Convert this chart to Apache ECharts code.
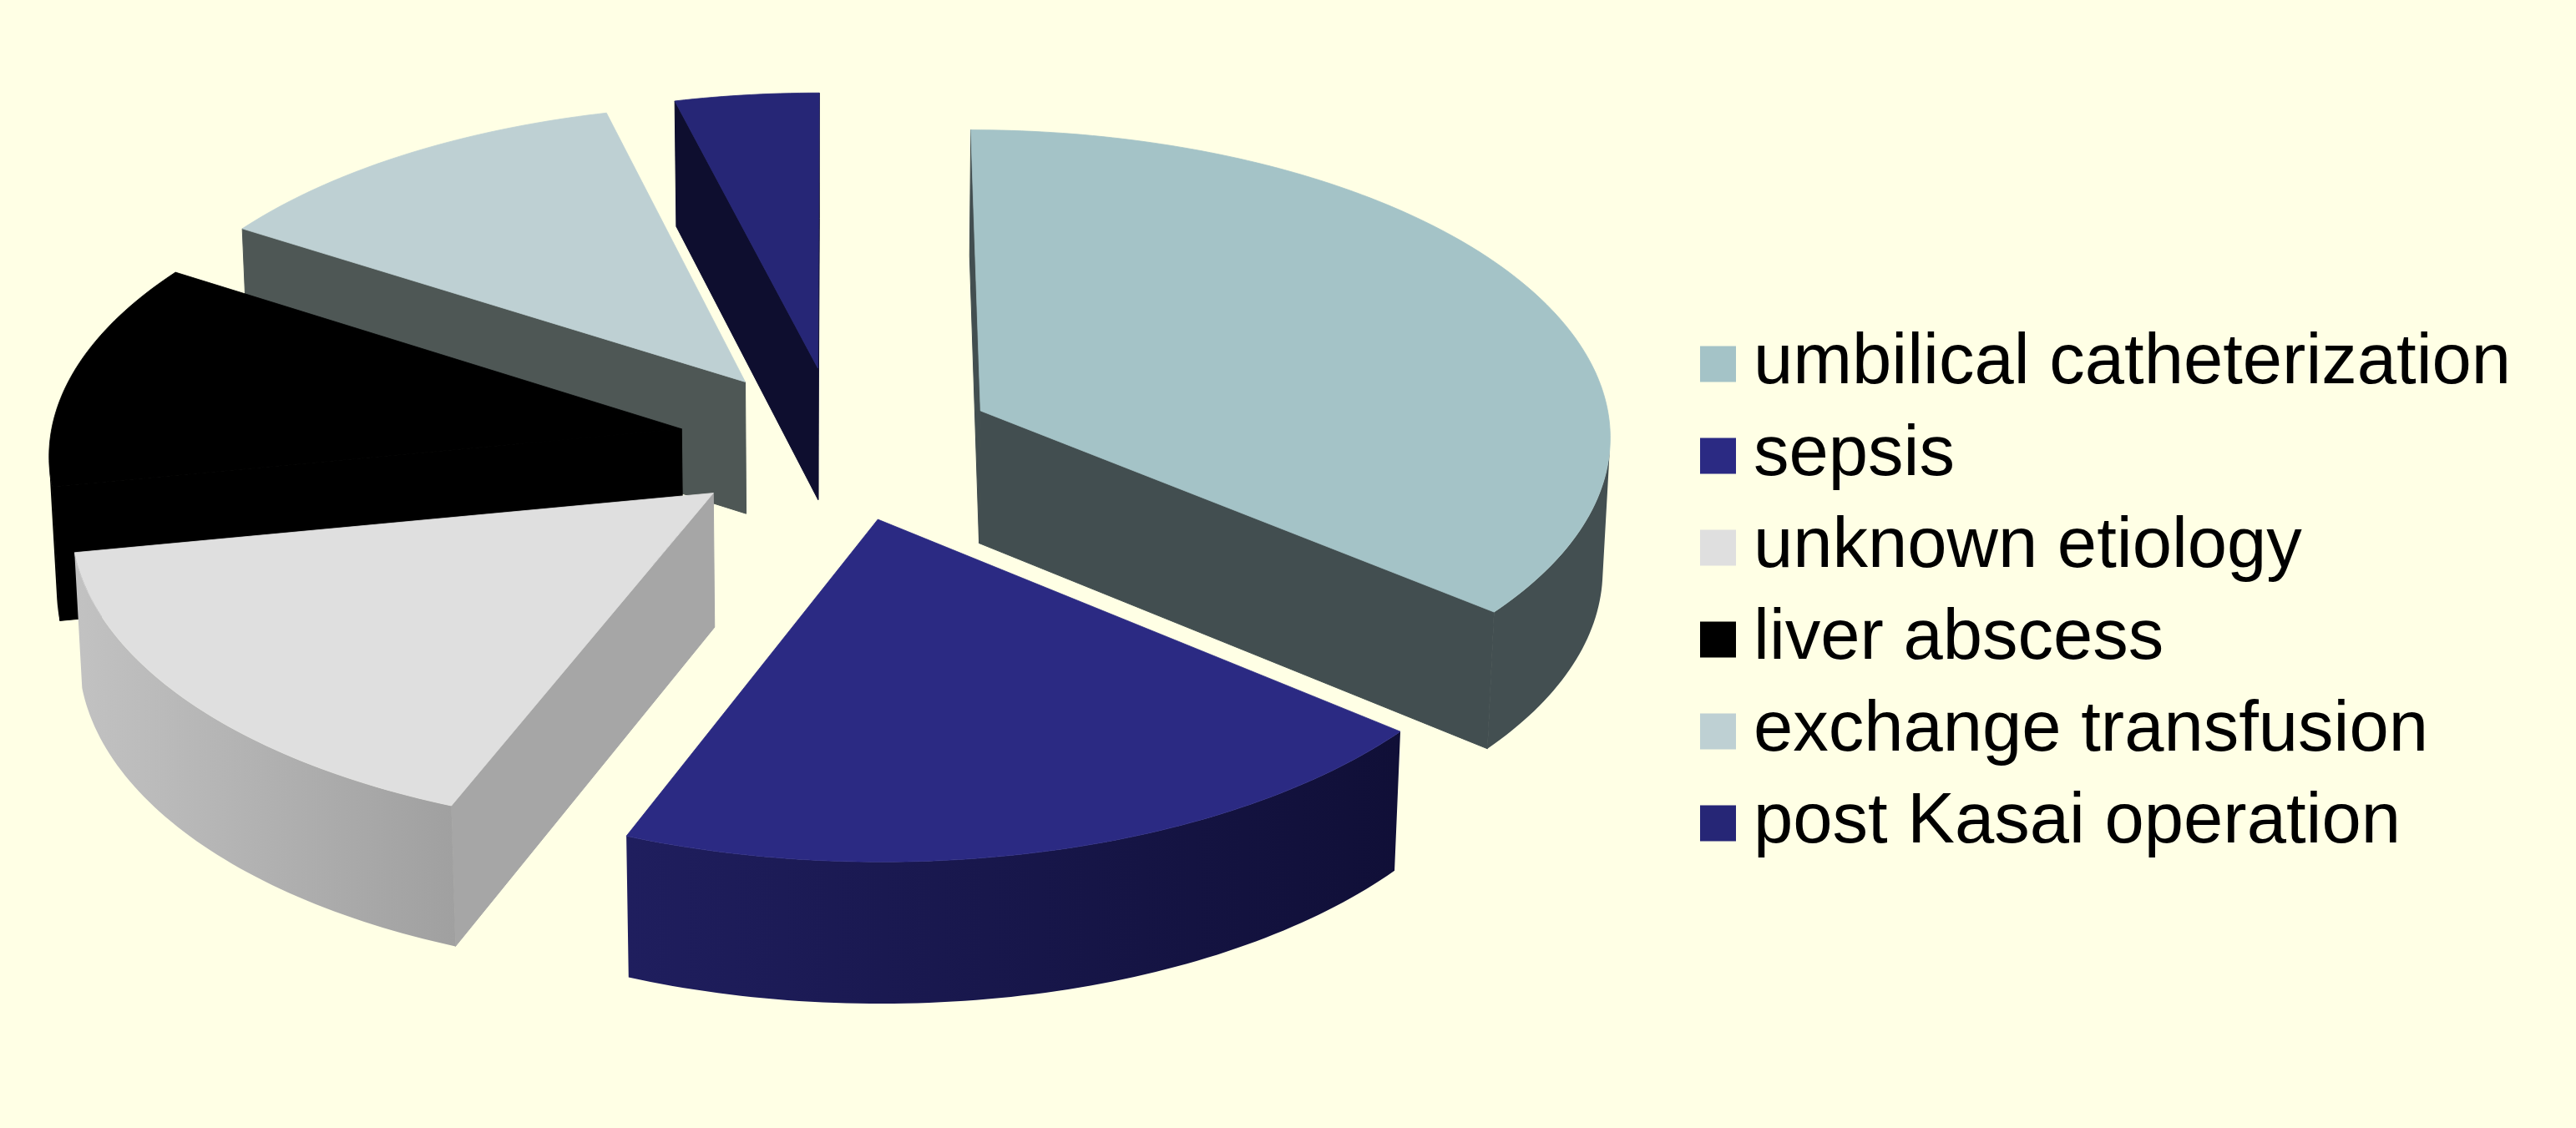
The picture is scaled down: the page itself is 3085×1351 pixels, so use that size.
<!DOCTYPE html>
<html>
<head>
<meta charset="utf-8">
<script src="https://cdn.jsdelivr.net/npm/echarts@6/dist/echarts.min.js"></script>
<style>
html,body{margin:0;padding:0;background:#ffffe5;}
#chart{width:3085px;height:1351px;}
</style>
</head>
<body>
<div id="chart"></div>
<script>
// ---------- data ----------
const categories = ['umbilical catheterization', 'sepsis', 'unknown etiology', 'liver abscess', 'exchange transfusion', 'post Kasai operation'];
const caseCounts = [9, 5, 4, 3, 3, 1];

// ---------- styles ----------
const topColors  = ['#a4c3c7', '#2b2a83', '#dfdfdf', '#000000', '#bed0d3', '#262676'];
const sideColors = ['#424e50', '#14133f', '#a6a6a6', '#000000', '#4e5755', '#0e0e2f'];
const outerLeft  = ['#434f51', '#1f1e5e', '#c2c2c2', '#000000', '#4e5755', '#0e0e2f'];
const outerRight = ['#434f51', '#100f37', '#a0a0a0', '#000000', '#4e5755', '#0e0e2f'];

// ---------- 3D view ----------
const VIEW = { cx: 1003, cy: 531, F: 9084, D: 12, alpha: Math.asin(0.484), explode: 0.252, height: 0.243 };
const ca = Math.cos(VIEW.alpha), sa = Math.sin(VIEW.alpha);
const CAM = [0, VIEW.D * sa, -VIEW.D * ca];

function project(p) {
  const yc = p[1] * ca + p[2] * sa;
  const zc = p[2] * ca - p[1] * sa;
  const s = VIEW.F / (VIEW.D + zc);
  return [VIEW.cx + p[0] * s, VIEW.cy - yc * s];
}
function depth(p) { return p[2] * ca - p[1] * sa; }
function rad(d) { return d * Math.PI / 180; }
function facing(n, p) {
  return n[0] * (CAM[0] - p[0]) + n[1] * (CAM[1] - p[1]) + n[2] * (CAM[2] - p[2]) > 0;
}

const total = caseCounts.reduce((a, b) => a + b, 0);
const slices = [];
let acc = 0;
caseCounts.forEach((v, i) => {
  const a0 = acc / total * 360;
  acc += v;
  const a1 = acc / total * 360;
  const m = rad((a0 + a1) / 2);
  const off = [VIEW.explode * Math.sin(m), 0, VIEW.explode * Math.cos(m)];
  const cen = [off[0] + 0.5 * Math.sin(m), 0, off[2] + 0.5 * Math.cos(m)];
  slices.push({ a0, a1, off, d: depth(cen) });
});
// painter's order: far first
const order = slices.map((s, i) => i).sort((a, b) => slices[b].d - slices[a].d);
const rank = [];
order.forEach((idx, r) => { rank[idx] = r; });

function renderSlice(params, api) {
  const i = params.seriesIndex;
  const sl = slices[i];
  const h = VIEW.height;
  const o = sl.off;
  const pt = (th, y) => [o[0] + Math.sin(rad(th)), y, o[2] + Math.cos(rad(th))];
  const apexT = [o[0], 0, o[2]], apexB = [o[0], -h, o[2]];
  const children = [];
  const baseZ = rank[i] * 10;
  const steps = Math.max(4, Math.ceil((sl.a1 - sl.a0) / 1));
  const ths = [];
  for (let k = 0; k <= steps; k++) ths.push(sl.a0 + (sl.a1 - sl.a0) * k / steps);

  // radial walls
  const walls = [[sl.a0, sl.a0 - 90], [sl.a1, sl.a1 + 90]];
  walls.forEach(([th, nd]) => {
    const n = [Math.sin(rad(nd)), 0, Math.cos(rad(nd))];
    const e = pt(th, 0);
    const mid = [(e[0] + apexT[0]) / 2, -h / 2, (e[2] + apexT[2]) / 2];
    if (facing(n, mid)) {
      children.push({
        type: 'polygon', z2: baseZ + 1,
        shape: { points: [project(apexT), project(e), project(pt(th, -h)), project(apexB)] },
        style: { fill: sideColors[i], stroke: sideColors[i], lineWidth: 1 }
      });
    }
  });

  // outer wall (visible part)
  const vis = ths.filter(th => {
    const n = [Math.sin(rad(th)), 0, Math.cos(rad(th))];
    return facing(n, pt(th, -h / 2));
  });
  if (vis.length > 1) {
    const topPts = vis.map(th => project(pt(th, 0)));
    const botPts = vis.map(th => project(pt(th, -h))).reverse();
    children.push({
      type: 'polygon', z2: baseZ + 2,
      shape: { points: topPts.concat(botPts) },
      style: {
        fill: new echarts.graphic.LinearGradient(0, 0, 1, 0, [
          { offset: 0, color: outerLeft[i] }, { offset: 1, color: outerRight[i] }
        ]),
        stroke: null
      }
    });
  }

  // top face
  const topFace = [project(apexT)].concat(ths.map(th => project(pt(th, 0))));
  children.push({
    type: 'polygon', z2: baseZ + 3,
    shape: { points: topFace },
    style: { fill: topColors[i], stroke: topColors[i], lineWidth: 0.8 }
  });
  return { type: 'group', children };
}

const chart = echarts.init(document.getElementById('chart'), null, { renderer: 'canvas' });
const series = categories.map((name, i) => ({
  type: 'custom',
  name,
  coordinateSystem: 'none',
  renderItem: renderSlice,
  itemStyle: { color: topColors[i] },
  data: [caseCounts[i]],
  silent: true,
  animation: false
}));

chart.setOption({
  backgroundColor: '#ffffe5',
  animation: false,
  legend: {
    orient: 'vertical',
    left: 2031,
    top: 386,
    icon: 'rect',
    itemWidth: 43,
    itemHeight: 43,
    itemGap: 20,
    selectedMode: false,
    data: categories,
    textStyle: {
      fontFamily: 'Liberation Sans, Arial, sans-serif',
      fontSize: 85,
      lineHeight: 90,
      color: '#000000',
      padding: [0, 0, 0, 16]
    }
  },
  series
});
</script>
</body>
</html>
